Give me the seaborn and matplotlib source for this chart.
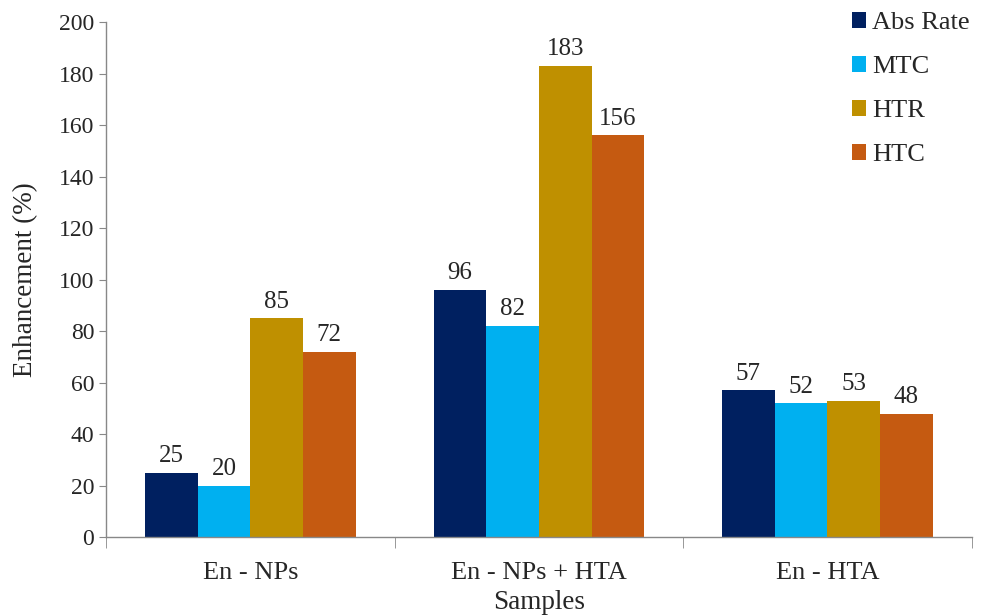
import pandas as pd
import numpy as np
import seaborn as sns
import matplotlib.pyplot as plt
from matplotlib.ticker import FixedLocator

samples = ['En - NPs', 'En - NPs + HTA', 'En - HTA']
series = ['Abs Rate', 'MTC', 'HTR', 'HTC']
abs_rate = [25, 96, 57]
mtc = [20, 82, 52]
htr = [85, 183, 53]
htc = [72, 156, 48]
colors = ['#002060', '#00B0F0', '#BF9000', '#C55A11']

rows = []
for name, vals in zip(series, [abs_rate, mtc, htr, htc]):
    for s, v in zip(samples, vals):
        rows.append({'Samples': s, 'Series': name, 'Enhancement': v})
df = pd.DataFrame(rows)

sns.set_style('white')
plt.rcParams['font.family'] = ['Liberation Serif', 'DejaVu Serif']

fig = plt.figure(figsize=(9.86, 6.16), dpi=100)
ax = fig.add_axes([0.1075, 0.128, 0.878, 0.836])

sns.barplot(data=df, x='Samples', y='Enhancement', hue='Series',
            palette=colors, width=0.73, gap=0, saturation=1,
            ax=ax, linewidth=0)

# value labels on top of each bar
for c in ax.containers:
    ax.bar_label(c, fmt='%d', fontsize=18, padding=4)

ax.set_ylim(0, 200)
ax.set_yticks(range(0, 201, 20))
ax.set_xlim(-0.5, 2.5)
ax.tick_params(axis='y', labelsize=17, length=5, color='#888888', direction='out', left=True)
ax.tick_params(axis='x', which='major', labelsize=19, length=0, pad=18)
ax.xaxis.set_minor_locator(FixedLocator([-0.5, 0.5, 1.5, 2.5]))
ax.tick_params(axis='x', which='minor', length=8, color='#888888', bottom=True)

for side in ['top', 'right']:
    ax.spines[side].set_visible(False)
for side in ['left', 'bottom']:
    ax.spines[side].set_color('#888888')
    ax.spines[side].set_linewidth(1)

ax.set_ylabel('Enhancement (%)', fontsize=19.5, labelpad=15)
ax.set_xlabel('Samples', fontsize=19.5, labelpad=4)

ax.legend(loc='upper right', bbox_to_anchor=(1.01, 1.04), frameon=False,
          fontsize=19, handlelength=0.53, handleheight=0.53, handletextpad=0.25,
          labelspacing=0.83, borderaxespad=0)

fig.savefig('out.png', dpi=100)
